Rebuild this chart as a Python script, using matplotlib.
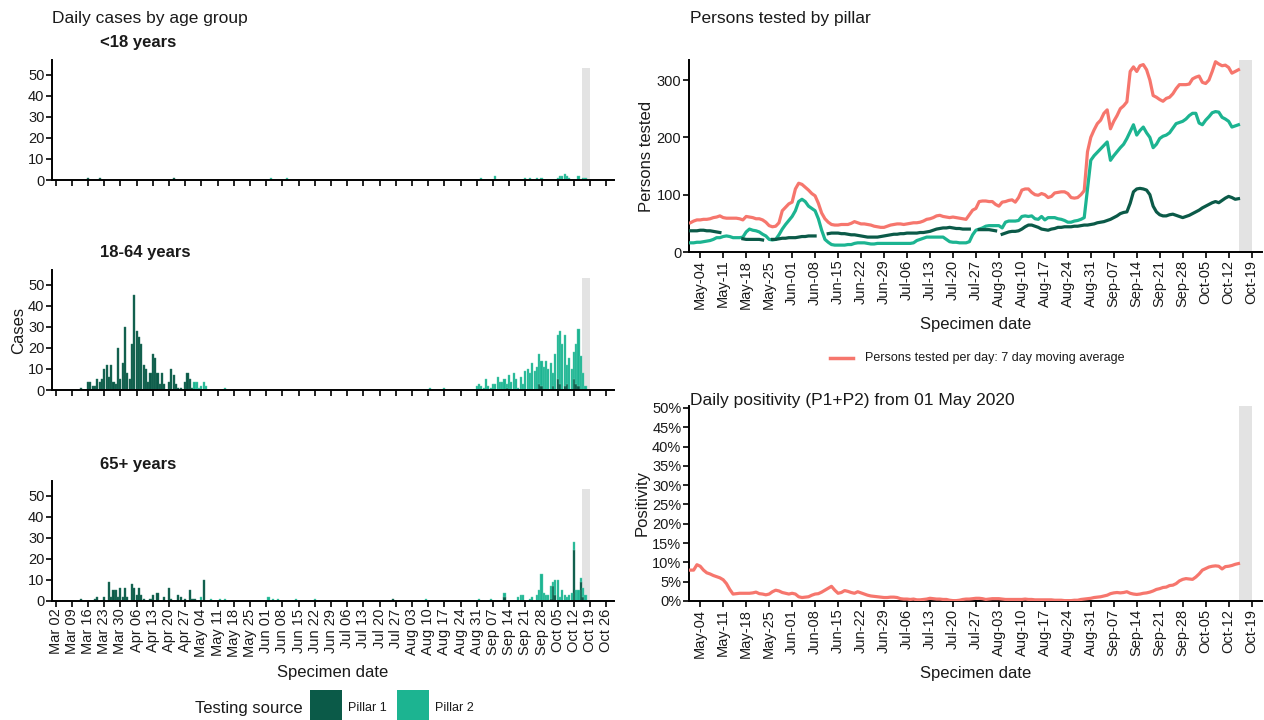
import numpy as np
import pandas as pd
import matplotlib
matplotlib.use('Agg')
import matplotlib.pyplot as plt
import matplotlib.dates as mdates
from matplotlib.patches import Rectangle
from matplotlib.lines import Line2D

plt.rcParams['font.family'] = ['Liberation Sans', 'DejaVu Sans']

# ---- daily cases by age group (date, count); pillar 2 = part stacked on top of pillar 1
u18_p1 = [("03-16", 1), ("03-21", 1), ("04-22", 1)]
u18_p2 = [("06-03", 1), ("06-10", 1), ("09-02", 1), ("09-08", 2), ("09-21", 1), ("09-23", 1),
          ("09-26", 1), ("09-28", 1), ("10-05", 1), ("10-06", 2), ("10-07", 2), ("10-08", 3),
          ("10-09", 2), ("10-10", 1), ("10-14", 2), ("10-16", 1), ("10-17", 1)]

a1864_p1 = [("03-13", 1), ("03-16", 4), ("03-17", 4), ("03-18", 2), ("03-19", 2), ("03-20", 5),
            ("03-21", 4), ("03-22", 5), ("03-23", 10), ("03-24", 12), ("03-25", 6), ("03-26", 12),
            ("03-27", 4), ("03-28", 3), ("03-29", 20), ("03-30", 5), ("03-31", 13), ("04-01", 30),
            ("04-02", 8), ("04-03", 5), ("04-04", 22), ("04-05", 45), ("04-06", 28), ("04-07", 25),
            ("04-08", 22), ("04-09", 12), ("04-10", 10), ("04-11", 4), ("04-12", 8), ("04-13", 17),
            ("04-14", 15), ("04-15", 8), ("04-16", 3), ("04-17", 8), ("04-18", 3), ("04-20", 4),
            ("04-21", 10), ("04-22", 7), ("04-23", 3), ("04-24", 1), ("04-25", 1), ("04-27", 4),
            ("04-28", 8), ("04-29", 5), ("04-30", 1),
            ("09-13", 1), ("09-27", 3), ("09-28", 2), ("10-03", 2), ("10-05", 5), ("10-06", 3),
            ("10-08", 2), ("10-09", 3), ("10-12", 5), ("10-13", 3), ("10-14", 2)]
a1864_p2 = [("05-01", 4), ("05-02", 4), ("05-03", 1), ("05-04", 2), ("05-05", 4), ("05-06", 2),
            ("05-14", 1), ("08-11", 1), ("08-17", 1), ("08-31", 2), ("09-01", 3), ("09-02", 2),
            ("09-03", 1), ("09-04", 5), ("09-05", 2), ("09-06", 1), ("09-07", 3), ("09-08", 3),
            ("09-09", 6), ("09-10", 4), ("09-11", 4), ("09-12", 5), ("09-13", 2), ("09-14", 7),
            ("09-15", 4), ("09-16", 8), ("09-17", 5), ("09-18", 1), ("09-19", 6), ("09-20", 3),
            ("09-21", 9), ("09-22", 10), ("09-23", 8), ("09-24", 13), ("09-25", 9), ("09-26", 11),
            ("09-27", 14), ("09-28", 12), ("09-29", 11), ("09-30", 14), ("10-01", 10), ("10-02", 13),
            ("10-03", 6), ("10-04", 17), ("10-05", 21), ("10-06", 25), ("10-07", 22), ("10-08", 24),
            ("10-09", 9), ("10-10", 15), ("10-11", 10), ("10-12", 13), ("10-13", 19), ("10-14", 27),
            ("10-15", 16), ("10-16", 8), ("10-17", 2)]

a65_p1 = [("03-13", 1), ("03-19", 1), ("03-20", 2), ("03-23", 2), ("03-25", 9), ("03-26", 2),
          ("03-27", 5), ("03-28", 5), ("03-29", 2), ("03-30", 6), ("03-31", 2), ("04-01", 6),
          ("04-02", 2), ("04-04", 8), ("04-05", 6), ("04-06", 3), ("04-07", 6), ("04-08", 3),
          ("04-09", 1), ("04-12", 1), ("04-13", 3), ("04-15", 4), ("04-18", 2), ("04-20", 6),
          ("04-21", 1), ("04-24", 3), ("04-25", 2), ("04-27", 1), ("04-29", 5), ("04-30", 1),
          ("05-01", 1), ("05-05", 10), ("07-26", 1), ("09-12", 2), ("10-02", 1), ("10-03", 7),
          ("10-04", 3), ("10-12", 24), ("10-15", 9), ("10-16", 2)]
a65_p2 = [("05-04", 2), ("05-08", 1), ("05-12", 1), ("05-14", 1), ("06-02", 2), ("06-04", 1),
          ("06-06", 1), ("06-14", 1), ("06-22", 1), ("08-09", 1), ("09-01", 1), ("09-06", 1),
          ("09-12", 2), ("09-18", 2), ("09-19", 3), ("09-20", 3), ("09-23", 1), ("09-24", 2),
          ("09-26", 3), ("09-27", 5), ("09-28", 13), ("09-29", 4), ("09-30", 3), ("10-01", 3),
          ("10-02", 6), ("10-03", 2), ("10-04", 7), ("10-05", 10), ("10-06", 2), ("10-07", 5),
          ("10-08", 3), ("10-09", 2), ("10-10", 3), ("10-11", 4), ("10-12", 4), ("10-13", 5),
          ("10-14", 5), ("10-15", 2), ("10-16", 4), ("10-17", 3)]

age_groups = ["<18 years", "18-64 years", "65+ years"]

# ---- persons tested, 7 day moving average, daily from 01 May
tested_start = "2020-05-01"
tested_total = [
    51, 54, 56, 56, 57, 57, 58,
    60, 61, 63, 60, 59, 59, 59,
    59, 58, 56, 62, 61, 60, 58,
    58, 56, 52, 46, 44, 45, 51,
    72, 78, 84, 87, 110, 120, 118,
    113, 108, 102, 98, 85, 68, 58,
    52, 48, 47, 47, 48, 48, 48,
    50, 53, 51, 49, 49, 48, 47,
    45, 44, 43, 43, 45, 47, 48,
    49, 49, 48, 49, 50, 51, 51,
    52, 54, 57, 58, 60, 63, 64,
    62, 61, 60, 61, 60, 59, 58,
    57, 65, 73, 76, 88, 89, 89,
    88, 88, 83, 80, 87, 88, 90,
    91, 87, 95, 108, 110, 110, 104,
    100, 99, 102, 100, 95, 97, 103,
    104, 105, 105, 102, 95, 94, 95,
    100, 107, 175, 200, 213, 224, 230,
    242, 248, 215, 228, 238, 250, 255,
    262, 315, 323, 315, 325, 327, 318,
    300, 273, 270, 266, 263, 268, 270,
    276, 285, 292, 292, 292, 293, 302,
    305, 307, 296, 294, 300, 315, 332,
    328, 325, 326, 322, 312, 315, 318]
nan = np.nan
tested_p1 = [
    37, 37, 37, 38, 38, 37, 37,
    36, 35, 34, nan, nan, nan, nan,
    nan, nan, 23, 22, 22, 22, 22,
    22, 21, nan, nan, 22, 22, 23,
    24, 24, 25, 25, 25, 26, 27,
    27, 28, 28, 28, nan, nan, nan,
    32, 33, 33, 33, 32, 32, 31,
    30, 30, 29, 28, 27, 26, 26,
    26, 26, 27, 28, 29, 30, 31,
    31, 32, 32, 33, 33, 33, 33,
    34, 34, 35, 36, 38, 40, 41,
    42, 42, 43, 42, 41, 41, 40,
    40, 40, nan, nan, 39, 39, 39,
    39, 38, 37, nan, 31, 33, 35,
    36, 36, 37, 40, 44, 47, 47,
    45, 43, 40, 39, 38, 40, 41,
    43, 43, 44, 44, 44, 45, 45,
    46, 47, 47, 48, 49, 51, 52,
    53, 55, 57, 60, 63, 67, 69,
    70, 85, 105, 110, 111, 110, 108,
    100, 80, 70, 65, 63, 63, 65,
    66, 64, 62, 60, 62, 64, 67,
    70, 73, 77, 80, 83, 86, 88,
    86, 90, 94, 97, 95, 92, 93]
tested_p2 = [
    16, 16, 17, 17, 18, 19, 20,
    22, 25, 25, 27, 28, 27, 25,
    25, 25, 26, 35, 40, 38, 37,
    35, 31, 28, 22, 21, 22, 30,
    40, 48, 55, 62, 72, 88, 92,
    88, 80, 76, 72, 58, 38, 22,
    17, 13, 12, 12, 12, 12, 13,
    13, 15, 16, 16, 16, 15, 14,
    14, 15, 15, 15, 15, 15, 15,
    15, 15, 15, 15, 15, 16, 20,
    22, 24, 26, 26, 26, 26, 26,
    26, 22, 18, 17, 17, 16, 16,
    16, 18, 30, 38, 40, 42, 45,
    46, 46, 46, 46, 42, 52, 54,
    54, 54, 55, 62, 63, 62, 63,
    58, 57, 62, 56, 60, 60, 60,
    58, 57, 55, 52, 52, 54, 55,
    57, 60, 110, 160, 168, 174, 180,
    186, 192, 160, 168, 175, 182, 188,
    198, 210, 222, 204, 212, 218, 208,
    200, 182, 188, 198, 202, 204, 208,
    216, 224, 226, 228, 232, 238, 242,
    242, 225, 222, 230, 236, 243, 245,
    244, 235, 232, 228, 218, 220, 222]

# ---- daily positivity (%), from 01 May
positivity = [
    8.0, 8.0, 9.4, 9.0, 8.0, 7.3, 7.0,
    6.6, 6.3, 6.0, 5.5, 4.5, 3.0, 1.8,
    1.9, 2.0, 2.0, 2.0, 2.0, 2.1, 2.3,
    1.9, 1.8, 1.6, 1.8, 2.4, 2.8, 2.6,
    2.2, 2.0, 1.8, 2.0, 1.8, 1.1, 0.9,
    1.0, 1.1, 1.5, 1.8, 1.9, 2.3, 2.8,
    3.3, 3.8, 2.8, 2.0, 2.2, 2.7, 2.5,
    2.2, 2.0, 2.4, 2.1, 1.8, 1.5, 1.3,
    1.2, 1.1, 1.0, 0.9, 0.9, 1.0, 1.0,
    0.9, 0.6, 0.5, 0.5, 0.4, 0.5, 0.3,
    0.3, 0.4, 0.5, 0.7, 0.6, 0.5, 0.5,
    0.4, 0.4, 0.2, 0.1, 0.1, 0.2, 0.4,
    0.5, 0.5, 0.6, 0.7, 0.7, 0.6, 0.4,
    0.5, 0.6, 0.6, 0.6, 0.5, 0.4, 0.4,
    0.4, 0.4, 0.4, 0.4, 0.5, 0.4, 0.4,
    0.3, 0.3, 0.3, 0.3, 0.3, 0.3, 0.2,
    0.2, 0.2, 0.1, 0.1, 0.1, 0.2, 0.2,
    0.4, 0.5, 0.6, 0.7, 0.9, 1.0, 1.1,
    1.3, 1.5, 1.9, 2.1, 2.2, 2.1, 2.2,
    2.4, 2.0, 1.8, 1.7, 1.8, 2.0, 2.1,
    2.3, 2.6, 3.0, 3.2, 3.5, 3.6, 4.0,
    4.1, 4.5, 5.2, 5.6, 5.8, 5.7, 5.6,
    6.2, 7.0, 8.0, 8.4, 8.8, 9.0, 9.1,
    9.0, 8.3, 8.9, 9.0, 9.2, 9.5, 9.7]

C_P1 = '#0b5a48'
C_P2 = '#1cb491'
C_RED = '#f6766d'
C_GREY = '#e3e3e3'
TXT = '#1a1a1a'

W, H = 1264, 720
fig = plt.figure(figsize=(W / 100, H / 100), dpi=100)


def rect(x0, y0, x1, y1):
    return [x0 / W, 1 - y1 / H, (x1 - x0) / W, (y1 - y0) / H]


def series(pairs):
    s = pd.Series([v for _, v in pairs], index=pd.to_datetime(["2020-" + d for d, _ in pairs]))
    return s


def style(ax):
    for sp in ['top', 'right']:
        ax.spines[sp].set_visible(False)
    for sp in ['left', 'bottom']:
        ax.spines[sp].set_linewidth(1.4)
        ax.spines[sp].set_color('black')
    ax.tick_params(axis='both', direction='out', length=4, width=1.2, colors='black',
                   labelcolor=TXT, labelsize=10.5, pad=1.5)


# ---------------- left: daily cases by age group
bar_data = [(u18_p1, u18_p2), (a1864_p1, a1864_p2), (a65_p1, a65_p2)]
left_tops = [60, 270, 481]
left_ticks = pd.date_range("2020-03-02", "2020-10-26", freq="7D")
for i, (p1l, p2l) in enumerate(bar_data):
    top = left_tops[i]
    ax = fig.add_axes(rect(52, top, 614, top + 120))
    s1 = series(p1l)
    s2 = series(p2l)
    idx = s1.index.union(s2.index)
    s1 = s1.reindex(idx, fill_value=0)
    s2 = s2.reindex(idx, fill_value=0)
    ax.axvspan(pd.Timestamp("2020-10-15 12:00"), pd.Timestamp("2020-10-19"), ymax=53 / 57,
               color=C_GREY, lw=0, zorder=0)
    m1 = s1 > 0
    ax.bar(idx[m1], s1[m1], width=0.9, color=C_P1, edgecolor='#2f7a66', linewidth=0.3, zorder=2)
    m2 = s2 > 0
    ax.bar(idx[m2], s2[m2], bottom=s1[m2], width=0.9, color=C_P2, edgecolor='#5fcfb3',
           linewidth=0.3, zorder=2)
    ax.set_xlim(pd.Timestamp("2020-02-29 10:00"), pd.Timestamp("2020-10-29 08:00"))
    ax.set_ylim(0, 57)
    ax.set_yticks([0, 10, 20, 30, 40, 50])
    ax.set_xticks(left_ticks)
    style(ax)
    if i == 2:
        ax.xaxis.set_major_formatter(mdates.DateFormatter('%b %d'))
        plt.setp(ax.get_xticklabels(), rotation=90)
        ax.set_xlabel("Specimen date", fontsize=12, color=TXT, labelpad=6)
    else:
        ax.set_xticklabels([])
    if i == 1:
        ax.set_ylabel("Cases", fontsize=12, color=TXT, labelpad=1)
    fig.text(100 / W, 1 - (top - 17) / H, age_groups[i], fontsize=12, fontweight='bold',
             color=TXT, va='center', ha='left')

fig.text(52 / W, 1 - 18 / H, "Daily cases by age group", fontsize=12.5, color=TXT,
         va='center', ha='left')

# legend, left
fig.text(195 / W, 1 - 708 / H, "Testing source", fontsize=12, color=TXT, va='center', ha='left')
fig.add_artist(Rectangle((310 / W, 0), 32 / W, 30 / H, transform=fig.transFigure,
                         color=C_P1, lw=0))
fig.text(348 / W, 1 - 708 / H, "Pillar 1", fontsize=9, color=TXT, va='center', ha='left')
fig.add_artist(Rectangle((397 / W, 0), 32 / W, 30 / H, transform=fig.transFigure,
                         color=C_P2, lw=0))
fig.text(435 / W, 1 - 708 / H, "Pillar 2", fontsize=9, color=TXT, va='center', ha='left')

# ---------------- right: persons tested by pillar
dates = pd.date_range(tested_start, periods=len(tested_total), freq="D")
right_ticks = pd.date_range("2020-05-04", "2020-10-19", freq="7D")
xl = (pd.Timestamp("2020-04-30 14:00"), pd.Timestamp("2020-10-22 04:00"))

ax = fig.add_axes(rect(689, 60, 1262, 252))
ax.axvspan(pd.Timestamp("2020-10-15 06:00"), pd.Timestamp("2020-10-19"), color=C_GREY, lw=0, zorder=0)
ax.plot(dates, tested_total, color=C_RED, lw=2.3, zorder=3)
ax.plot(dates, tested_p2, color=C_P2, lw=2.3, zorder=3)
ax.plot(dates, tested_p1, color=C_P1, lw=2.3, zorder=3)
ax.set_xlim(*xl)
ax.set_ylim(0, 335)
ax.set_yticks([0, 100, 200, 300])
ax.set_xticks(right_ticks)
ax.xaxis.set_major_formatter(mdates.DateFormatter('%b-%d'))
style(ax)
plt.setp(ax.get_xticklabels(), rotation=90)
ax.set_xlabel("Specimen date", fontsize=12, color=TXT, labelpad=6)
ax.set_ylabel("Persons tested", fontsize=12, color=TXT, labelpad=2)
fig.text(690 / W, 1 - 18 / H, "Persons tested by pillar", fontsize=12.5, color=TXT,
         va='center', ha='left')

fig.add_artist(Line2D([830 / W, 853 / W], [1 - 358 / H, 1 - 358 / H], transform=fig.transFigure,
                      color=C_RED, lw=2.5))
fig.text(865 / W, 1 - 358 / H, "Persons tested per day: 7 day moving average", fontsize=9,
         color=TXT, va='center', ha='left')

# ---------------- right: positivity
ax = fig.add_axes(rect(689, 406, 1262, 601))
ax.axvspan(pd.Timestamp("2020-10-15 06:00"), pd.Timestamp("2020-10-19"), color=C_GREY, lw=0, zorder=0)
ax.plot(dates, np.array(positivity) / 100, color=C_RED, lw=2.3, zorder=3)
ax.set_xlim(*xl)
ax.set_ylim(0, 0.505)
ax.set_yticks(np.arange(0, 0.51, 0.05))
ax.yaxis.set_major_formatter(matplotlib.ticker.FuncFormatter(lambda v, p: f"{v * 100:.0f}%"))
ax.set_xticks(right_ticks)
ax.xaxis.set_major_formatter(mdates.DateFormatter('%b-%d'))
style(ax)
plt.setp(ax.get_xticklabels(), rotation=90)
ax.set_xlabel("Specimen date", fontsize=12, color=TXT, labelpad=6)
ax.set_ylabel("Positivity", fontsize=12, color=TXT, labelpad=2)
fig.text(690 / W, 1 - 400 / H, "Daily positivity (P1+P2) from 01 May 2020", fontsize=12.5,
         color=TXT, va='center', ha='left')

fig.savefig("out.png", dpi=100, facecolor='white')
